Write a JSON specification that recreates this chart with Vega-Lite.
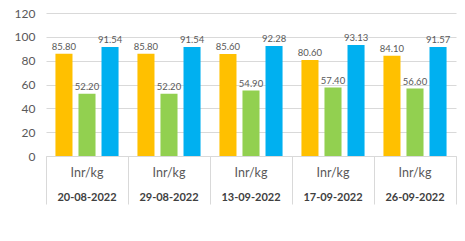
{
  "$schema": "https://vega.github.io/schema/vega-lite/v6.json",
  "width": 410,
  "height": 143,
  "autosize": "none",
  "padding": {"left": 46, "top": 13, "right": 9, "bottom": 85},
  "background": "white",
  "config": {
    "view": {"stroke": null},
    "font": "Lato"
  },
  "data": {
    "values": [
      {"date": "20-08-2022", "series": "S1", "value": 85.80},
      {"date": "20-08-2022", "series": "S2", "value": 52.20},
      {"date": "20-08-2022", "series": "S3", "value": 91.54},
      {"date": "29-08-2022", "series": "S1", "value": 85.80},
      {"date": "29-08-2022", "series": "S2", "value": 52.20},
      {"date": "29-08-2022", "series": "S3", "value": 91.54},
      {"date": "13-09-2022", "series": "S1", "value": 85.60},
      {"date": "13-09-2022", "series": "S2", "value": 54.90},
      {"date": "13-09-2022", "series": "S3", "value": 92.28},
      {"date": "17-09-2022", "series": "S1", "value": 80.60},
      {"date": "17-09-2022", "series": "S2", "value": 57.40},
      {"date": "17-09-2022", "series": "S3", "value": 93.13},
      {"date": "26-09-2022", "series": "S1", "value": 84.10},
      {"date": "26-09-2022", "series": "S2", "value": 56.60},
      {"date": "26-09-2022", "series": "S3", "value": 91.57}
    ]
  },
  "encoding": {
    "x": {
      "field": "date", "type": "nominal", "sort": null,
      "scale": {"paddingInner": 0, "paddingOuter": 0}
    },
    "xOffset": {
      "field": "series", "type": "nominal",
      "scale": {"paddingInner": 0.26, "paddingOuter": 0.41}
    },
    "y": {
      "field": "value", "type": "quantitative",
      "scale": {"domain": [0, 120], "nice": false},
      "axis": {
        "title": null, "values": [0, 20, 40, 60, 80, 100, 120],
        "domain": false, "ticks": false, "tickSize": 0,
        "grid": true, "gridColor": "#D9D9D9", "gridWidth": 1,
        "labelColor": "#595959", "labelFontSize": 12, "labelPadding": 11,
        "labelFont": "Lato"
      }
    }
  },
  "layer": [
    {
      "mark": {"type": "bar"},
      "encoding": {
        "color": {
          "field": "series", "type": "nominal", "legend": null,
          "scale": {"domain": ["S1", "S2", "S3"], "range": ["#FFC000", "#92D050", "#00B0F0"]}
        },
        "x": {
          "field": "date", "type": "nominal", "sort": null,
          "axis": {
            "orient": "bottom", "title": null, "labelAngle": 0,
            "labelExpr": "'Inr/kg'",
            "domain": false, "ticks": false, "tickSize": 0,
            "labelPadding": 16, "labelBaseline": "middle",
            "labelColor": "#595959", "labelFontSize": 12.5, "labelFont": "Lato"
          }
        }
      }
    },
    {
      "mark": {"type": "text", "baseline": "bottom", "dy": -2, "fontSize": 9.5, "color": "#595959", "font": "Lato"},
      "encoding": {
        "text": {"field": "value", "type": "quantitative", "format": ".2f"},
        "x": {
          "field": "date", "type": "nominal", "sort": null,
          "axis": {
            "orient": "bottom", "title": null, "labelAngle": 0,
            "domain": false, "ticks": false, "tickSize": 0,
            "labelPadding": 41, "labelBaseline": "middle",
            "labelColor": "#404040", "labelFontSize": 11, "labelFontWeight": "bold", "labelFont": "Lato"
          }
        }
      }
    },
    {
      "mark": {"type": "bar", "opacity": 0},
      "encoding": {
        "x": {
          "field": "date", "type": "nominal", "sort": null,
          "axis": {
            "orient": "bottom", "title": null, "labels": false,
            "domain": true, "domainColor": "#D9D9D9",
            "ticks": true, "tickBand": "extent", "tickSize": 48, "tickColor": "#D9D9D9"
          }
        }
      }
    }
  ],
  "resolve": {"axis": {"x": "independent"}}
}
